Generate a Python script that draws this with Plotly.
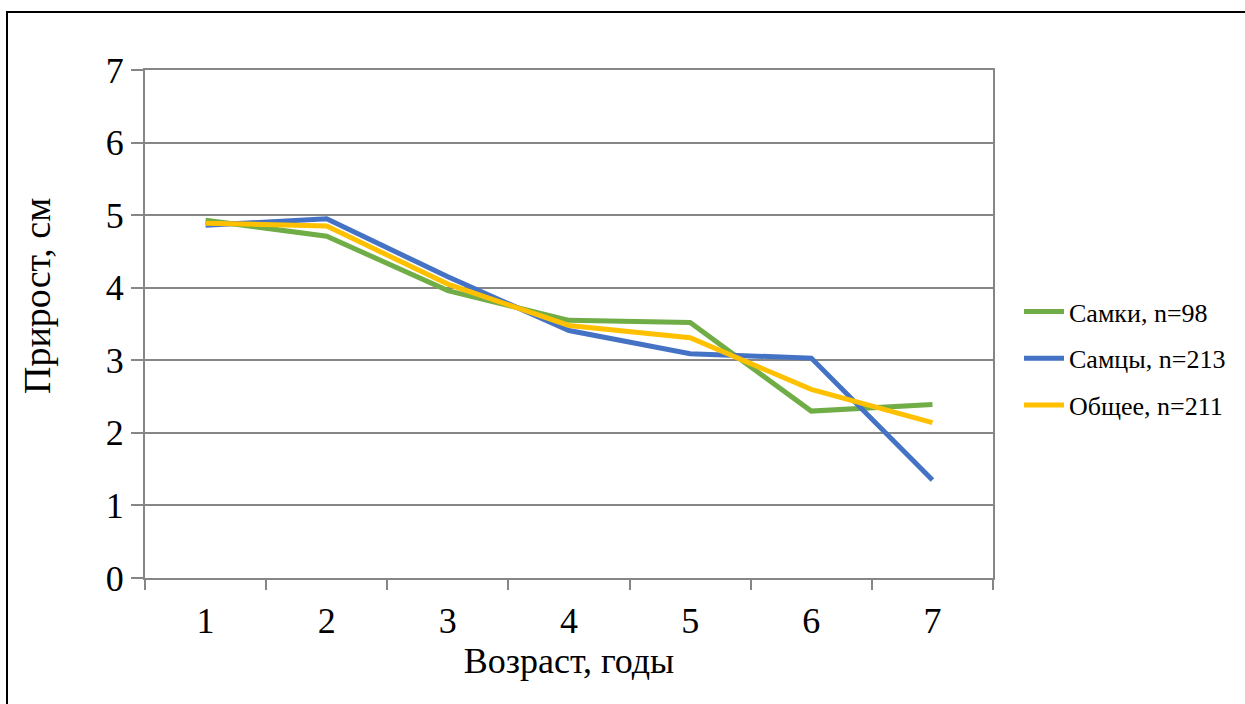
import plotly.graph_objects as go

ages = ["1", "2", "3", "4", "5", "6", "7"]
females = [4.93, 4.71, 3.96, 3.55, 3.52, 2.30, 2.39]
males = [4.86, 4.95, 4.15, 3.41, 3.09, 3.03, 1.35]
overall = [4.89, 4.85, 4.05, 3.48, 3.31, 2.60, 2.14]
names = ["Самки, n=98", "Самцы, n=213", "Общее, n=211"]
colors = ["#70AD47", "#4472C4", "#FFC000"]
y_ticks = [0, 1, 2, 3, 4, 5, 6, 7]
x_title = "Возраст, годы"
y_title = "Прирост, см"

FONT = "'Liberation Serif', 'Times New Roman', serif"

fig = go.Figure()
for i, (nm, vals, col) in enumerate(zip(names, [females, males, overall], colors)):
    fig.add_trace(go.Scatter(
        x=ages, y=vals, mode="lines", name=nm,
        line=dict(color=col, width=5),
        legendgroup=f"g{i}",
    ))

W, H = 1245, 704
L, R, T, B = 145, 993, 70, 578
pw, ph = R - L, B - T

def px_x(x):
    return (x - L) / pw

def px_y(y):
    return (B - y) / ph

fig.update_layout(
    width=W, height=H,
    margin=dict(l=L, r=W - R, t=T, b=H - B, autoexpand=False),
    paper_bgcolor="white", plot_bgcolor="white",
    font=dict(family=FONT, color="black", size=36),
    showlegend=True,
    legend=dict(
        x=px_x(1019), y=px_y(288), xanchor="left", yanchor="top",
        font=dict(family=FONT, size=26, color="black"),
        traceorder="grouped", tracegroupgap=10,
        itemwidth=40, bgcolor="rgba(0,0,0,0)",
    ),
    xaxis=dict(
        type="category", range=[-0.5, 6.5], tickson="boundaries",
        ticks="outside", ticklen=10,
        tickwidth=1.5, tickcolor="#868686",
        showline=True, linecolor="#868686", linewidth=2, mirror=True,
        showgrid=False, tickfont=dict(size=36), ticklabelstandoff=10,
        title=dict(text=x_title, font=dict(size=36), standoff=4),
    ),
    yaxis=dict(
        range=[0, 7], tickvals=y_ticks, ticks="outside", ticklen=12,
        tickwidth=1.5, tickcolor="#868686",
        showline=True, linecolor="#868686", linewidth=2, mirror=True,
        showgrid=True, gridcolor="#868686", gridwidth=2,
        zeroline=False, tickfont=dict(size=36),
    ),
    annotations=[dict(
        text=y_title, textangle=-90, xref="paper", yref="paper",
        x=px_x(37), y=px_y(296), xanchor="center", yanchor="middle",
        showarrow=False, font=dict(family=FONT, size=38, color="black"),
    )],
    shapes=[dict(
        type="rect", xref="paper", yref="paper",
        x0=px_x(7), x1=px_x(1260), y0=px_y(720), y1=px_y(12),
        line=dict(color="black", width=2), layer="below",
    )],
)

fig.write_html("out.html")
